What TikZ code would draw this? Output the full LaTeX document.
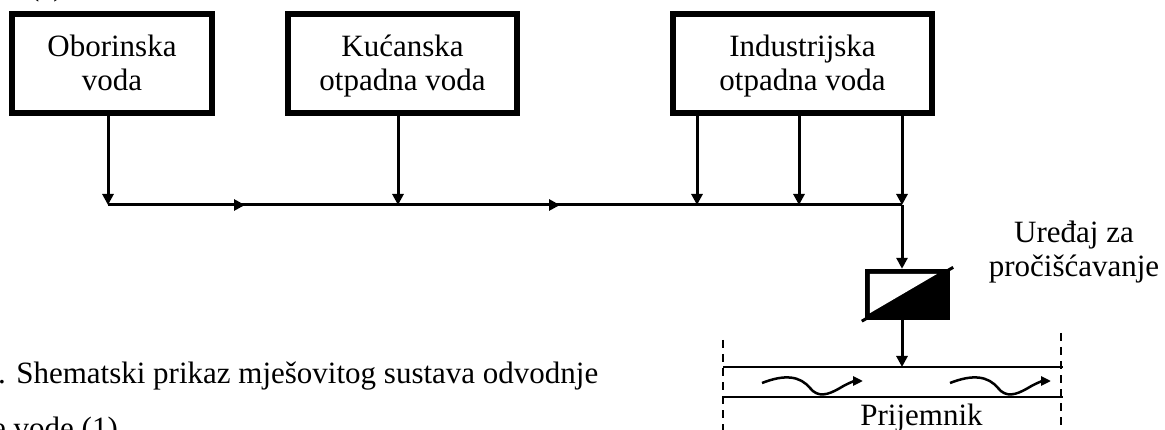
\documentclass[tikz,border=0pt]{standalone}
\usepackage{fontspec}
\setmainfont{Liberation Serif}
\usetikzlibrary{positioning,arrows.meta}
\tikzstyle{diagram} = [x = 1pt, y = -1pt]
\tikzstyle{textFont} = [font = \fontsize{31}{34}\selectfont]
\tikzstyle{sourceBoxStyle} = [draw, line width = 6pt, minimum height = 99pt, inner sep = 0pt, align = center, textFont]
\tikzstyle{labelText} = [align = center, inner sep = 0pt, textFont]
\tikzstyle{flowLine} = [line width = 3pt]
\tikzstyle{flowArrow} = [flowLine, -{Triangle[width = 11pt, length = 11pt]}]
\tikzstyle{riverLine} = [line width = 2.5pt]
\tikzstyle{riverBank} = [line width = 2pt, dash pattern = on 8pt off 6pt]
\tikzstyle{waveArrow} = [line width = 2.5pt, -{Triangle[width = 9pt, length = 10pt]}]
\tikzstyle{deviceStyle} = [fill = black, minimum width = 85pt, minimum height = 51pt, inner sep = 0pt]
\newcommand{\twoLines}[2]{\rule{0pt}{27pt}#1\\#2\rule[-7pt]{0pt}{7pt}}
\newcommand{\sourceBox}[4]{\node [sourceBoxStyle, minimum width = #3] (#1) at (#2) {#4};}
\newcommand{\waveArrow}[1]{\draw [waveArrow, xshift = #1] (762,383) .. controls (785,374) and (800,376) .. (810,388) .. controls (818,398) and (828,395) .. (840,388) .. controls (848,383) and (855,381) .. (863,381);}
\begin{document}
\begin{tikzpicture}[diagram]
        \useasboundingbox (0,0) rectangle (1165,430);
        \clip (0,0) rectangle (1165,430);

        \node [labelText, anchor = base west] (partLabel) at (29,-4) {(a)};

        \sourceBox{oborinska}{112,63.5}{200pt}{\twoLines{Oborinska}{voda}}
        \sourceBox{kucanska}{402.5,63.5}{229pt}{\twoLines{Kućanska}{otpadna voda}}
        \sourceBox{industrijska}{802.5,63.5}{259pt}{\twoLines{Industrijska}{otpadna voda}}

        \coordinate (j1) at (108,205);
        \coordinate (j2) at (398,205);
        \coordinate (j3) at (697,205);
        \coordinate (j4) at (799,205);
        \coordinate (j5) at (902,205);
        \coordinate (m1) at (245,205);
        \coordinate (m2start) at (450,205);
        \coordinate (m2) at (560,205);

        \draw [flowLine] (j1) -- (j5);
        \draw [flowArrow] (j1) -- (m1);
        \draw [flowArrow] (m2start) -- (m2);
        \draw [flowArrow] (oborinska.south -| j1) -- (j1);
        \draw [flowArrow] (kucanska.south -| j2) -- (j2);
        \foreach \junction in {j3,j4,j5} {
          \draw [flowArrow] (industrijska.south -| \junction) -- (\junction);
        }

        \node [deviceStyle] (device) at (907.5,294.5) {};
        \fill [white] ([xshift = 5pt, yshift = -5pt]device.north west) -- ([xshift = -13pt, yshift = -5pt]device.north east) -- ([xshift = 5pt, yshift = 7pt]device.south west) -- cycle;
        \draw [line width = 3pt] ([xshift = -3pt, yshift = -1pt]device.south west) -- ([xshift = 3pt, yshift = 1.5pt]device.north east);
        \draw [flowArrow] (j5) -- (j5 |- device.north);
        \node [labelText] (deviceLabel) at (1074,250) {\twoLines{Uređaj za}{pročišćavanje}};

        \coordinate (riverTopLeft) at (723,367);
        \coordinate (riverTopRight) at (1063,367);
        \coordinate (riverBottomLeft) at (723,397);
        \coordinate (riverBottomRight) at (1063,397);
        \draw [riverLine] (riverTopLeft) -- (riverTopRight);
        \draw [riverLine] (riverBottomLeft) -- (riverBottomRight);
        \draw [riverBank] (723,340) -- (723,432);
        \draw [riverBank] (1061,333) -- (1061,432);
        \draw [flowArrow] (device.south -| j5) -- (j5 |- riverTopLeft);
        \waveArrow{0pt}
        \waveArrow{188pt}
        \node [labelText, anchor = base] (riverLabel) at (921.5,425) {Prijemnik};

        \node [labelText, anchor = base west] (captionTop) at (-2,383) {. Shematski prikaz mješovitog sustava odvodnje};
        \node [labelText, anchor = base west] (captionBottom) at (-8,438) {e vode (1)};
      \end{tikzpicture}
\end{document}
